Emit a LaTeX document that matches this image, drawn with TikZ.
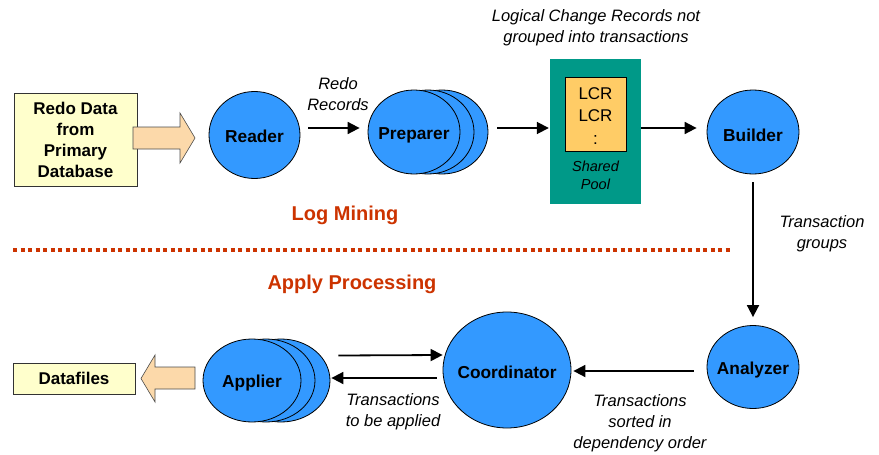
\documentclass[tikz,border=0pt]{standalone}
\usepackage{fontspec}
\setmainfont{Liberation Sans}
\usetikzlibrary{shapes.geometric,arrows.meta,calc}

\definecolor{procblue}{HTML}{3399FF}
\definecolor{srcyellow}{HTML}{FFFFCC}
\definecolor{blockpeach}{HTML}{FCD9AA}
\definecolor{poolteal}{HTML}{009988}
\definecolor{lcrorange}{HTML}{FFCC66}
\definecolor{phasered}{HTML}{CC3300}

\tikzset{
  proc/.style={ellipse, draw=black, line width=0.8pt, fill=procblue, inner sep=0pt},
  proclbl/.style={font=\fontsize{17.3}{20}\selectfont\bfseries, inner sep=0pt, yshift=-3pt},
  srcbox/.style={rectangle, draw=black!80, line width=0.8pt, fill=srcyellow, inner sep=0pt,
                 align=center, font=\fontsize{17}{21}\selectfont\bfseries},
  blockarrow/.style={draw=black!70, line width=0.6pt, fill=blockpeach},
  note/.style={font=\fontsize{16.5}{21}\selectfont\itshape, align=center, inner sep=0pt},
  phase/.style={font=\fontsize{20}{24}\selectfont\bfseries, text=phasered, inner sep=0pt},
  flow/.style={line width=1.8pt, -{Triangle[length=12pt,width=12pt]}},
  sepline/.style={draw=phasered, line width=4pt, dash pattern=on 4pt off 3.5pt}
}

\begin{document}
\begin{tikzpicture}[x=1pt,y=-1pt]
\useasboundingbox (0,0) rectangle (879,455);

% ---------- log mining row ----------
\node[srcbox, minimum width=123pt, minimum height=93pt] (src) at (75.5,139.5)
  {Redo Data\\from\\Primary\\Database};
\filldraw[blockarrow] (133,127) -- (180,127) -- (180,113) -- (195,138)
  -- (180,163) -- (180,149) -- (133,149) -- cycle;

\node[proc, minimum width=91pt, minimum height=87pt] (reader) at (254.5,135) {};
\node[proclbl, yshift=2pt] (readerlbl) at (reader.center) {Reader};

\node[proc, minimum width=92pt, minimum height=84pt] (prep3) at (442,132) {};
\node[proc, minimum width=92pt, minimum height=84pt] (prep2) at (428,132) {};
\node[proc, minimum width=92pt, minimum height=84pt] (prep1) at (414,132) {};
\node[proclbl] (preplbl) at (prep1.center) {Preparer};

\node[rectangle, fill=poolteal, minimum width=91pt, minimum height=145pt, inner sep=0pt]
  (pool) at (595.5,131.5) {};
\node[rectangle, draw=black, line width=0.8pt, fill=lcrorange, minimum width=61pt,
  minimum height=74pt, inner sep=0pt] (lcr) at (595.5,114) {};
\node[font=\fontsize{17}{22.5}\selectfont, align=center, inner sep=0pt] (lcrtxt)
  at (595.5,116) {LCR\\LCR\\:};
\node[font=\fontsize{14.5}{18}\selectfont\itshape, align=center, inner sep=0pt]
  (pooltxt) at (595.5,175) {Shared\\Pool};

\node[proc, minimum width=92pt, minimum height=84pt] (builder) at (753,132) {};
\node[proclbl] (builderlbl) at (builder.center) {Builder};

\node[note] (lcrnote) at (596,28) {Logical Change Records not\\grouped into transactions};
\node[note] (redonote) at (338,94) {Redo\\Records};

\draw[flow] ($(reader.east)+(8,-7)$) -- ($(prep1.west)+(-8,-4)$);
\draw[flow] ($(prep3.east)+(9,-4)$) -- ($(pool.west)+(-1,-3.5)$);
\draw[flow] ($(pool.east)+(0,-3.5)$) -- ($(builder.west)+(-10,-4)$);

% ---------- phase separator ----------
\node[phase] (mining) at (345,215) {Log Mining};
\coordinate (sepL) at (13,250);
\coordinate (sepR) at (730,250);
\draw[sepline] (sepL) -- (sepR);
\node[phase] (applyproc) at (352,284) {Apply Processing};

% ---------- apply row ----------
\node[proc, minimum width=92pt, minimum height=83pt] (analyzer) at (753,367) {};
\node[proclbl] (analyzerlbl) at (analyzer.center) {Analyzer};
\draw[flow] ($(builder.south)+(0,8)$) -- ($(analyzer.north)+(0,-8)$);
\node[note] (groupnote) at (822,234) {Transaction\\groups};

\node[proc, minimum width=128pt, minimum height=116pt] (coord) at (507,370) {};
\node[proclbl, yshift=1pt] (coordlbl) at (coord.center) {Coordinator};
\draw[flow] ($(analyzer.west)+(-13,4)$) -- ($(coord.east)+(2,1)$);
\node[note] (sortnote) at (640,423) {Transactions\\sorted in\\dependency order};

\node[proc, minimum width=98pt, minimum height=83pt] (app3) at (281,380.5) {};
\node[proc, minimum width=98pt, minimum height=83pt] (app2) at (266,380.5) {};
\node[proc, minimum width=98pt, minimum height=83pt] (app1) at (252,380.5) {};
\node[proclbl] (applbl) at (app1.center) {Applier};

\draw[flow] ($(app3.east)+(8,-25)$) -- ($(coord.west)+(0,-15)$);
\draw[flow] ($(coord.west)+(-6,8)$) -- ($(app3.east)+(1,-2.5)$);
\node[note] (applynote) at (393,412) {Transactions\\to be applied};

\filldraw[blockarrow] (195,367) -- (155,367) -- (155,355) -- (141,378.5)
  -- (155,402) -- (155,389) -- (195,389) -- cycle;
\node[srcbox, minimum width=122pt, minimum height=31pt] (dfiles) at (74,378.5) {Datafiles};
\end{tikzpicture}
\end{document}
